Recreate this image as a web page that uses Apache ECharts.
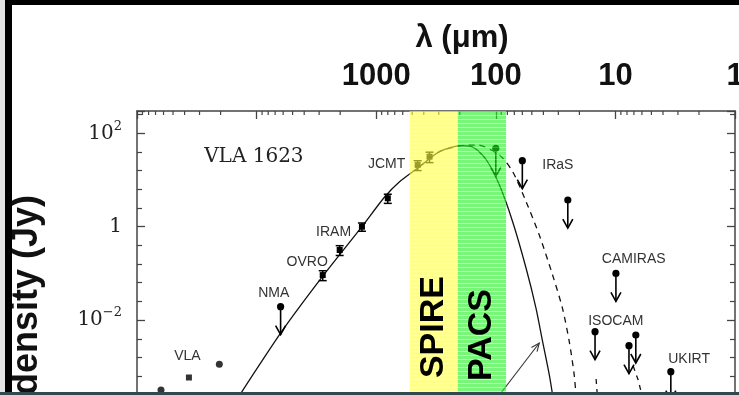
<!DOCTYPE html>
<html><head><meta charset="utf-8">
<script src="https://cdn.jsdelivr.net/npm/echarts@6/dist/echarts.min.js"></script>
<style>html,body{margin:0;padding:0;background:#fff}#c{width:739px;height:395px}</style>
</head><body><div id="c"></div>
<script>
// ---------------- DATA ----------------
// top axis: wavelength (µm) tick labels, decades 10^0..10^3
const lambdaTickLabels = ['1', '10', '100', '1000'];
// log-axis minor tick multipliers and decades (wavelength, µm)
const minorMultipliers = [2, 3, 4, 5, 6, 7, 8, 9];
const minorDecades = [1, 10, 100, 1000, 10000];

// VLA centimetre points (µm, Jy)
const vlaLambda = [63000, 36800, 20500];
const vlaFlux = [3.2e-4, 5.9e-4, 1.13e-3];
const vlaSymbol = ['circle', 'rect', 'circle'];

// detections with error bars (µm, Jy, ±Jy)
const detLambda = [2800, 2020, 1316, 800, 450, 358];
const detFlux = [0.092, 0.317, 1.0, 4.06, 20.9, 31.5];
const detErr = [0.022, 0.075, 0.2, 0.9, 5.0, 8.0];

// upper limits (µm, Jy)
const ulLambda = [6300, 100, 60, 25, 9.9, 14.8, 7.7, 6.75, 3.44];
const ulFlux = [0.0194, 47.7, 25.9, 3.73, 0.10, 5.65e-3, 2.83e-3, 4.8e-3, 7.85e-4];

// model SED, solid (µm, Jy)
const solidLambda = [18430, 6281, 2818, 1316, 851, 638, 434, 296, 195, 151, 119.7, 93.3, 72.3, 55.8, 46.1, 40.6, 35.7, 33.0];
const solidFlux = [8.0e-5, 5.3e-3, 0.085, 1.0, 4.32, 9.2, 19.3, 40.4, 54.3, 48.4, 26.8, 7.8, 1.28, 0.129, 0.0179, 3.45e-3, 6.7e-4, 1.95e-4];

// model SED, dashed (µm, Jy)
const dashLambda = [434, 296, 195, 142.5, 93.3, 72.3, 55.8, 43.3, 33.5, 27.7, 24.3, 22.1, 21.2];
const dashFlux = [19.3, 40.4, 54.3, 56.1, 34.3, 15.1, 3.43, 0.664, 0.0924, 0.0179, 3.45e-3, 6.7e-4, 1.95e-4];

// hot component fragments, dashed (null = gap)
const hotLambda = [14.5, 14.06, null, 7.10, 6.45, 5.86];
const hotFlux = [5.48e-4, 1.95e-4, null, 1.04e-3, 5.2e-4, 1.95e-4];

// instrument bands (µm)
const bandNames = ['SPIRE', 'PACS'];
const bandFrom = [526, 208];
const bandTo = [208, 82];
const bandLabelFlux = [7.1e-3, 4.8e-3];

// annotation arrow (µm, Jy)
const arrowFrom = [93.3, 2.49e-4];
const arrowTo = [43.3, 3.23e-3];

// text annotations
const noteText = ['VLA 1623', 'VLA', 'NMA', 'OVRO', 'IRAM', 'JCMT', 'IRaS', 'CAMIRAS', 'ISOCAM', 'UKIRT'];
const noteLambda = [10540, 37870, 7180, 3776, 2270, 818, 30.3, 7.03, 9.93, 2.42];
const noteFlux = [31.1, 1.70e-3, 0.038, 0.175, 0.77, 22.0, 20.9, 0.203, 9.57e-3, 1.47e-3];

// ---------------- STYLE / LAYOUT ----------------
const X_MIN = 0, X_MAX = 5;          // log10 λ
const Y_MIN = -4, Y_MAX = 2.4775;    // log10 F
const ARROW_DEX = 0.6;
const AX = '#444';
const L = Math.log10;
const bandColors = ['#ffff3f', '#1ef01e'];

// striped fill pattern (scan-line look of the shaded bands)
function stripePattern(color) {
  const c = document.createElement('canvas');
  c.width = 8; c.height = 4;
  const g = c.getContext('2d');
  g.fillStyle = color; g.fillRect(0, 0, 8, 4);
  g.fillStyle = 'rgba(255,255,255,0.55)'; g.fillRect(0, 3, 8, 1);
  return {image: c, repeat: 'repeat'};
}
const bandFills = bandColors.map(stripePattern);

const chart = echarts.init(document.getElementById('c'), null, {renderer: 'canvas'});

const pair = (a, b) => a.map((v, i) => v == null ? ['-', '-'] : [L(v), L(b[i])]);

const yAxisBase = {
  type: 'value', min: Y_MIN, max: Y_MAX, interval: 2,
  axisLine: {show: true, onZero: false, lineStyle: {color: AX, width: 1.5}},
  axisTick: {show: true, inside: true, length: 8, lineStyle: {color: AX, width: 1.3}},
  minorTick: {show: true, splitNumber: 5, length: 5, lineStyle: {color: AX, width: 1.2}},
  splitLine: {show: false}
};

const option = {
  animation: false,
  backgroundColor: '#fff',
  grid: {left: 137, top: 111, width: 598, height: 302.5, containLabel: false, outerBoundsMode: 'none'},
  xAxis: {
    type: 'value', position: 'top', min: X_MIN, max: X_MAX, interval: 1, inverse: true,
    axisLine: {show: true, onZero: false, lineStyle: {color: AX, width: 1.5}},
    axisTick: {show: true, inside: true, length: 8, lineStyle: {color: AX, width: 1.3}},
    splitLine: {show: false},
    axisLabel: {
      showMinLabel: true, showMaxLabel: true, margin: 19,
      formatter: v => (Math.abs(v - Math.round(v)) < 1e-6 && v <= 3) ? lambdaTickLabels[Math.round(v)] : '',
      fontFamily: 'Liberation Sans', fontWeight: 'bold', fontSize: 31, color: '#111'
    }
  },
  yAxis: [
    Object.assign({}, yAxisBase, {
      position: 'left',
      axisLabel: {
        margin: 15,
        formatter: v => {
          if (Math.abs(v - Math.round(v)) > 1e-6) return '';
          const n = Math.round(v);
          if (n === 0) return '{b|1}';
          return '{b|10}{s|' + (n < 0 ? '\u2212' + (-n) : n) + '}';
        },
        rich: {
          b: {fontFamily: 'DejaVu Serif', fontSize: 20, color: '#222'},
          s: {fontFamily: 'DejaVu Serif', fontSize: 13, color: '#222', padding: [0, 0, 14, 0]}
        }
      }
    }),
    Object.assign({}, yAxisBase, {position: 'right', axisLabel: {show: false}})
  ],
  graphic: [
    {type: 'rect', shape: {x: 0, y: 0, width: 5, height: 395}, style: {fill: '#e4e4e4'}, z: 100},
    {type: 'rect', shape: {x: 5, y: 0, width: 7, height: 395}, style: {fill: '#000'}, z: 100},
    {type: 'rect', shape: {x: 5, y: 0, width: 734, height: 5}, style: {fill: '#000'}, z: 100},
    {type: 'rect', shape: {x: 0, y: 392, width: 739, height: 3}, style: {fill: '#33474e'}, z: 100},
    {type: 'text', x: 462, y: 38, z: 100,
      style: {text: 'λ (μm)', font: 'bold 31px "Liberation Sans"', fill: '#111', align: 'center', verticalAlign: 'middle'}},
    {type: 'text', x: 27, y: 195, rotation: Math.PI / 2, z: 99,
      style: {text: 'Flux density (Jy)', font: 'bold 36px "Liberation Sans"', fill: '#111', align: 'right', verticalAlign: 'middle'}}
  ],
  series: [
    // x-axis log minor ticks (top)
    {
      type: 'custom', z: 3, silent: true, clip: false,
      data: minorDecades.flatMap(d => minorMultipliers.map(k => [L(k * d), Y_MAX])).filter(p => p[0] < X_MAX),
      renderItem: (params, api) => {
        const p = api.coord([api.value(0), api.value(1)]);
        return {type: 'line', shape: {x1: p[0], y1: p[1], x2: p[0], y2: p[1] + 4}, style: {stroke: AX, lineWidth: 1.2}};
      }
    },
    // solid model
    {type: 'line', z: 2, data: pair(solidLambda, solidFlux), showSymbol: false, smooth: 0.25,
      lineStyle: {color: '#111', width: 1.3}, silent: true},
    // dashed model
    {type: 'line', z: 2, data: pair(dashLambda, dashFlux), showSymbol: false, smooth: 0.25,
      lineStyle: {color: '#111', width: 1.3, type: [6, 5]}, silent: true},
    // hot component fragments
    {type: 'line', z: 2, data: pair(hotLambda, hotFlux), showSymbol: false, connectNulls: false,
      lineStyle: {color: '#111', width: 1.3, type: [5, 5]}, silent: true},
    // VLA points
    {type: 'scatter', z: 3, silent: true,
      data: vlaLambda.map((v, i) => ({value: [L(v), L(vlaFlux[i])], symbol: vlaSymbol[i], symbolSize: vlaSymbol[i] === 'rect' ? 6 : 7})),
      itemStyle: {color: '#000'}},
    // detections with error bars
    {
      type: 'custom', z: 3, silent: true,
      data: detLambda.map((v, i) => [L(v), L(detFlux[i]), L(detFlux[i] - detErr[i]), L(detFlux[i] + detErr[i])]),
      renderItem: (params, api) => {
        const p = api.coord([api.value(0), api.value(1)]);
        const lo = api.coord([api.value(0), api.value(2)]);
        const hi = api.coord([api.value(0), api.value(3)]);
        const st = {stroke: '#000', lineWidth: 1.5};
        return {type: 'group', children: [
          {type: 'line', shape: {x1: p[0], y1: lo[1], x2: p[0], y2: hi[1]}, style: st},
          {type: 'line', shape: {x1: p[0] - 4, y1: lo[1], x2: p[0] + 4, y2: lo[1]}, style: st},
          {type: 'line', shape: {x1: p[0] - 4, y1: hi[1], x2: p[0] + 4, y2: hi[1]}, style: st},
          {type: 'rect', shape: {x: p[0] - 3, y: p[1] - 3, width: 6, height: 6}, style: {fill: '#000'}}
        ]};
      }
    },
    // upper limits
    {
      type: 'custom', z: 3, silent: true, clip: false,
      data: ulLambda.map((v, i) => [L(v), L(ulFlux[i])]),
      renderItem: (params, api) => {
        const p = api.coord([api.value(0), api.value(1)]);
        const t = api.coord([api.value(0), api.value(1) - ARROW_DEX]);
        const st = {stroke: '#000', lineWidth: 1.6, fill: null};
        return {type: 'group', children: [
          {type: 'line', shape: {x1: p[0], y1: p[1], x2: t[0], y2: t[1]}, style: st},
          {type: 'polyline', shape: {points: [[t[0] - 5, t[1] - 9], [t[0], t[1]], [t[0] + 5, t[1] - 9]]}, style: st},
          {type: 'circle', shape: {cx: p[0], cy: p[1], r: 3.6}, style: {fill: '#000'}}
        ]};
      }
    },
    // annotation arrow
    {
      type: 'custom', z: 3, silent: true, clip: false,
      data: [[L(arrowFrom[0]), L(arrowFrom[1]), L(arrowTo[0]), L(arrowTo[1])]],
      renderItem: (params, api) => {
        const a = api.coord([api.value(0), api.value(1)]);
        const b = api.coord([api.value(2), api.value(3)]);
        const ang = Math.atan2(b[1] - a[1], b[0] - a[0]);
        const h = 9, w = 0.4;
        const p1 = [b[0] - h * Math.cos(ang - w), b[1] - h * Math.sin(ang - w)];
        const p2 = [b[0] - h * Math.cos(ang + w), b[1] - h * Math.sin(ang + w)];
        const st = {stroke: '#333', lineWidth: 1.1, fill: null};
        return {type: 'group', children: [
          {type: 'line', shape: {x1: a[0], y1: a[1], x2: b[0], y2: b[1]}, style: st},
          {type: 'polyline', shape: {points: [p1, b, p2]}, style: st}
        ]};
      }
    },
    // text annotations
    {
      type: 'custom', z: 3, silent: true, clip: false,
      data: noteLambda.map((v, i) => [L(v), L(noteFlux[i])]),
      renderItem: (params, api) => {
        const p = api.coord([api.value(0), api.value(1)]);
        const i = params.dataIndex;
        const serif = i === 0;
        return {type: 'text', x: p[0], y: p[1], style: {
          text: noteText[i], align: 'center', verticalAlign: 'middle',
          font: serif ? '20px "DejaVu Serif"' : '14px "Liberation Sans"',
          fill: serif ? '#222' : '#333'
        }};
      }
    },
    // instrument bands (overlay)
    {
      type: 'custom', z: 5, silent: true,
      data: bandFrom.map((v, i) => [L(v), L(bandTo[i])]),
      renderItem: (params, api) => {
        const a = api.coord([api.value(0), Y_MAX]);
        const b = api.coord([api.value(1), Y_MIN]);
        return {type: 'rect', shape: {x: a[0], y: a[1], width: b[0] - a[0], height: b[1] - a[1]},
          style: {fill: bandFills[params.dataIndex], opacity: 0.6}};
      }
    },
    // band labels
    {
      type: 'custom', z: 6, silent: true,
      data: bandFrom.map((v, i) => [(L(v) + L(bandTo[i])) / 2, L(bandLabelFlux[i])]),
      renderItem: (params, api) => {
        const p = api.coord([api.value(0), api.value(1)]);
        return {type: 'text', x: p[0], y: p[1], rotation: Math.PI / 2, style: {
          text: bandNames[params.dataIndex], align: 'center', verticalAlign: 'middle',
          font: 'bold 34px "Liberation Sans"', fill: '#000'
        }};
      }
    }
  ]
};
chart.setOption(option);
</script>
</body></html>
